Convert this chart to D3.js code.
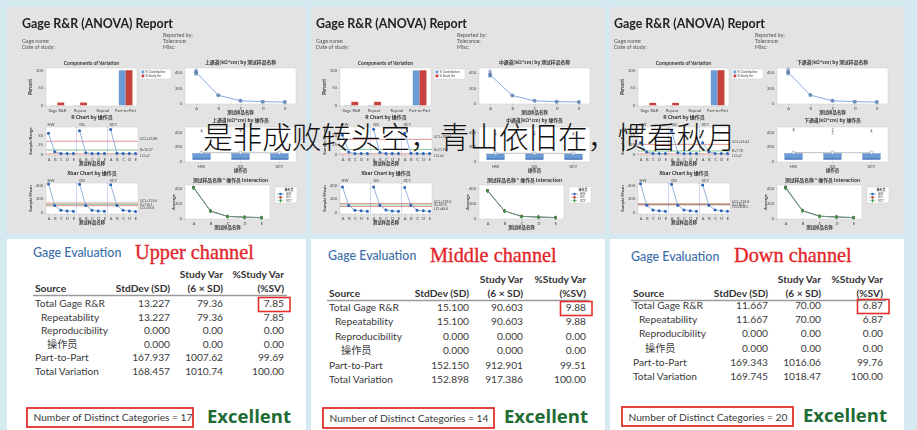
<!DOCTYPE html>
<html>
<head>
<meta charset="utf-8">
<script src="https://cdn.jsdelivr.net/npm/d3@7"></script>
<style>
  body { margin: 0; background: #d5e9f1; }
  svg { display: block; }
</style>
</head>
<body>
<svg id="chart" width="917" height="430"></svg>
<script>
// ---------------- data ----------------
const channelNames = ["上通道", "中通道", "下通道"];
const channelLabels = ["Upper channel", "Middle channel", "Down channel"];
const parts = ["A", "B", "C", "D", "E"];
const operators = ["HW", "GG", "XCY"];
const components = ["Gage R&R", "Repeat", "Reprod", "Part-to-Part"];
const sources = ["Total Gage R&R", "Repeatability", "Reproducibility", "操作员", "Part-to-Part", "Total Variation"];
const headerTop = ["", "", "Study Var", "%Study Var"];
const headerBottom = ["Source", "StdDev (SD)", "(6 × SD)", "(%SV)"];
const percentTicks = [0, 50, 100];
const measureTicks = [0, 200, 400];
const rangeTicks = [0, 25, 50];

// Gage evaluation tables
const upperSD = [13.227, 13.227, 0, 0, 167.937, 168.457];
const upperSV = [79.36, 79.36, 0, 0, 1007.62, 1010.74];
const upperPctSV = [7.85, 7.85, 0, 0, 99.69, 100];
const middleSD = [15.100, 15.100, 0, 0, 152.150, 152.898];
const middleSV = [90.603, 90.603, 0, 0, 912.901, 917.386];
const middlePctSV = [9.88, 9.88, 0, 0, 99.51, 100];
const downSD = [11.667, 11.667, 0, 0, 169.343, 169.745];
const downSV = [70.00, 70.00, 0, 0, 1016.06, 1018.47];
const downPctSV = [6.87, 6.87, 0, 0, 99.76, 100];
const studyVarDigits = [2, 3, 2];
const distinctCategories = [17, 14, 20];
const ratings = ["Excellent", "Excellent", "Excellent"];

// % contribution per component (Gage R&R, Repeat, Reprod, Part-to-Part)
const upperContribution = [0.62, 0.62, 0, 99.38];
const middleContribution = [0.98, 0.98, 0, 99.02];
const downContribution = [0.47, 0.47, 0, 99.53];

// measurement by part: means and spread of the individual readings on part A
const upperPartMean = [405, 105, 33, 22, 16];
const middlePartMean = [370, 102, 32, 22, 17];
const downPartMean = [405, 107, 33, 22, 16];
const upperPartA = [378, 392, 410, 432];
const middlePartA = [352, 368, 390, 418];
const downPartA = [382, 398, 420, 445];

// sample ranges per operator (rows) and part (columns)
const upperRange = [[55, 6, 1, 1, 1], [62, 3, 1, 1, 1], [65, 2, 1, 1, 1]];
const middleRange = [[50, 5, 1, 1, 1], [66, 4, 1, 1, 1], [55, 2, 1, 1, 1]];
const downRange = [[30, 5, 1, 1, 1], [62, 3, 1, 1, 1], [30, 6, 1, 1, 1]];
const upperRangeLimits = [33.88, 10.37, 0];
const middleRangeLimits = [38.94, 11.92, 0];
const downRangeLimits = [25.43, 7.78, 0];

// operator x part averages (Xbar points and interaction lines)
const upperOpPartMean = [[415, 100, 30, 20, 15], [410, 100, 30, 20, 15], [405, 100, 30, 20, 12]];
const middleOpPartMean = [[372, 100, 30, 22, 15], [370, 102, 32, 20, 15], [365, 102, 30, 22, 14]];
const downOpPartMean = [[418, 105, 33, 22, 15], [410, 105, 33, 22, 14], [402, 105, 33, 22, 14]];
const upperXbarLimits = [135.6, 116.1, 96.6];
const middleXbarLimits = [129.4, 107.0, 84.6];
const downXbarLimits = [124.8, 116.5, 108.2];

// boxplot by operator: [min, q1, median, q3, max, mean]
const upperOperatorBox = [[12, 18, 33, 104, 110, 117], [12, 18, 33, 104, 110, 116], [10, 17, 32, 103, 108, 114]];
const middleOperatorBox = [[12, 18, 32, 98, 106, 108], [12, 18, 32, 98, 106, 108], [11, 17, 31, 97, 105, 107]];
const downOperatorBox = [[12, 18, 33, 104, 112, 118], [12, 18, 33, 104, 110, 116], [11, 18, 33, 103, 110, 115]];
const upperOutliers = [[398, 416, 432], [392, 410, 428], [385, 404, 424]];
const middleOutliers = [[356, 372, 392], [352, 370, 396], [350, 366, 388]];
const downOutliers = [[405, 420, 435], [368, 392, 415, 440], [398, 412, 422]];

const overlayText = "是非成败转头空，青山依旧在，惯看秋月";

// ---------------- assembled per channel ----------------
const reports = [
  { name: channelNames[0], label: channelLabels[0], sd: upperSD, sv: upperSV, pct: upperPctSV, digits: studyVarDigits[0],
    contrib: upperContribution, partMean: upperPartMean, partA: upperPartA, range: upperRange, rLim: upperRangeLimits,
    opMean: upperOpPartMean, xLim: upperXbarLimits, box: upperOperatorBox, outliers: upperOutliers,
    ndc: distinctCategories[0], rating: ratings[0] },
  { name: channelNames[1], label: channelLabels[1], sd: middleSD, sv: middleSV, pct: middlePctSV, digits: studyVarDigits[1],
    contrib: middleContribution, partMean: middlePartMean, partA: middlePartA, range: middleRange, rLim: middleRangeLimits,
    opMean: middleOpPartMean, xLim: middleXbarLimits, box: middleOperatorBox, outliers: middleOutliers,
    ndc: distinctCategories[1], rating: ratings[1] },
  { name: channelNames[2], label: channelLabels[2], sd: downSD, sv: downSV, pct: downPctSV, digits: studyVarDigits[2],
    contrib: downContribution, partMean: downPartMean, partA: downPartA, range: downRange, rLim: downRangeLimits,
    opMean: downOpPartMean, xLim: downXbarLimits, box: downOperatorBox, outliers: downOutliers,
    ndc: distinctCategories[2], rating: ratings[2] }
];

// ---------------- layout ----------------
const W = 917, H = 430;
const FONT = "Lato, 'Noto Sans CJK SC', sans-serif";
const CJK = "'Noto Sans CJK SC', sans-serif";
const panels = [ { x: 7, w: 299, cx: 22 }, { x: 311, w: 294, cx: 316 }, { x: 610, w: 294, cx: 614 } ];
const tables = [
  { sx: 35, h2: 292, row0: 307, gap: 13.6, cols: [135, 188, 249], geX: 33, geY: 257, chX: 135, chY: 259, ndcBox: [27, 408, 193, 427], ndcY: 421, exX: 207, exY: 423 },
  { sx: 329, h2: 297, row0: 311, gap: 14.4, cols: [140, 194, 257], geX: 328, geY: 260, chX: 430, chY: 262, ndcBox: [323, 408, 494, 428], ndcY: 422, exX: 504, exY: 423 },
  { sx: 633, h2: 297, row0: 309, gap: 14.2, cols: [135, 188, 250], geX: 631, geY: 261, chX: 734, chY: 262, ndcBox: [622, 407, 793, 426], ndcY: 421, exX: 803, exY: 422 }
];

const BLUE = "#6b9bd6", RED = "#c8423c", GREEN = "#2f9a4a", DOT = "#2b63b5", LINE = "#86acdd";

const svg = d3.select("#chart");
svg.append("defs").append("filter").attr("id", "soft")
  .append("feGaussianBlur").attr("stdDeviation", 0.3);
svg.append("rect").attr("width", W).attr("height", H).attr("fill", "#d5e9f1");

function txt(g, x, y, s, o = {}) {
  return g.append("text").attr("x", x).attr("y", y).text(s)
    .attr("font-family", o.ff || FONT).attr("font-size", o.fs || 4.4)
    .attr("font-weight", o.fw || 400).attr("fill", o.fill || "#333")
    .attr("text-anchor", o.anchor || "start");
}
function frame(g, b) {
  g.append("rect").attr("x", b.x0).attr("y", b.y0).attr("width", b.x1 - b.x0).attr("height", b.y1 - b.y0)
    .attr("fill", "#fff").attr("stroke", "#cfcfcf").attr("stroke-width", 0.5);
}
function leftAxis(g, b, scale, ticks) {
  const a = g.append("g").attr("transform", `translate(${b.x0},0)`)
    .call(d3.axisLeft(scale).tickValues(ticks).tickSize(1.5).tickPadding(1.5));
  a.attr("font-size", 4).attr("font-family", FONT);
  a.select(".domain").remove();
  a.selectAll(".tick line").attr("stroke", "#999").attr("stroke-width", 0.4);
  a.selectAll(".tick text").attr("fill", "#444");
}
function bottomAxis(g, b, scale, fmt) {
  const a = g.append("g").attr("transform", `translate(0,${b.y1})`)
    .call(d3.axisBottom(scale).tickSize(1.5).tickPadding(1.2).tickFormat(fmt || (d => d)));
  a.attr("font-size", 4).attr("font-family", FONT);
  a.select(".domain").remove();
  a.selectAll(".tick line").attr("stroke", "#999").attr("stroke-width", 0.4);
  a.selectAll(".tick text").attr("fill", "#444");
}

function drawReport(g, r) {
  txt(g, 0, 28, "Gage R&R (ANOVA) Report", { fs: 12.4, fw: 700, fill: "#222" });
  txt(g, 0, 43, "Gage name:", { fs: 5.3, fill: "#555" });
  txt(g, 0, 49, "Date of study:", { fs: 5.3, fill: "#555" });
  txt(g, 141, 37, "Reported by:", { fs: 5.3, fill: "#555" });
  txt(g, 141, 43, "Tolerance:", { fs: 5.3, fill: "#555" });
  txt(g, 141, 49, "Misc:", { fs: 5.3, fill: "#555" });

  // ---- Components of Variation ----
  const cv = { x0: 24, x1: 115, y0: 68, y1: 106 };
  txt(g, (cv.x0 + cv.x1) / 2, 65, "Components of Variation", { fs: 5, fw: 700, anchor: "middle" });
  frame(g, cv);
  const xb = d3.scaleBand().domain(components).range([cv.x0, cv.x1]).paddingInner(0.4).paddingOuter(0.2);
  const yb = d3.scaleLinear().domain([-2, 106]).range([cv.y1, cv.y0]);
  const svBars = [r.pct[0], r.pct[1], r.pct[2], r.pct[4]];
  const bw = xb.bandwidth() / 2;
  g.selectAll(null).data(components).join("rect")
    .attr("x", d => xb(d)).attr("width", bw)
    .attr("y", (d, i) => yb(r.contrib[i])).attr("height", (d, i) => yb(0) - yb(r.contrib[i]))
    .attr("fill", BLUE);
  g.selectAll(null).data(components).join("rect")
    .attr("x", d => xb(d) + bw).attr("width", bw)
    .attr("y", (d, i) => yb(svBars[i])).attr("height", (d, i) => yb(0) - yb(svBars[i]))
    .attr("fill", RED);
  leftAxis(g, cv, yb, percentTicks);
  bottomAxis(g, cv, xb);
  txt(g, 0, 0, "Percent", { fs: 4.6, fw: 700, anchor: "middle" })
    .attr("transform", `translate(10,${(cv.y0 + cv.y1) / 2}) rotate(-90)`);
  const lg = g.append("g").attr("transform", "translate(118,69)");
  lg.append("rect").attr("width", 31).attr("height", 10).attr("fill", "#fff").attr("stroke", "#ccc").attr("stroke-width", 0.4);
  [["% Contribution", BLUE], ["% Study Var", RED]].forEach(([s, c], i) => {
    lg.append("rect").attr("x", 1.5).attr("y", 1.5 + i * 4).attr("width", 2.8).attr("height", 2.8).attr("fill", c);
    txt(lg, 5.5, 4 + i * 4, s, { fs: 3, fill: "#444" });
  });

  // ---- measurement by part ----
  const pp = { x0: 163, x1: 274, y0: 68, y1: 104 };
  txt(g, (pp.x0 + pp.x1) / 2, 64, `${r.name}(kΩ*cm) by 测试样品名称`, { fs: 4.8, fw: 700, anchor: "middle", ff: CJK });
  frame(g, pp);
  const xp = d3.scalePoint().domain(parts).range([pp.x0, pp.x1]).padding(0.5);
  const yp = d3.scaleLinear().domain([-9, 461]).range([pp.y1, pp.y0]);
  g.append("path").datum(r.partMean)
    .attr("d", d3.line().x((d, i) => xp(parts[i])).y(d => yp(d)))
    .attr("fill", "none").attr("stroke", LINE).attr("stroke-width", 1);
  g.selectAll(null).data(r.partA).join("circle")
    .attr("cx", xp("A")).attr("cy", d => yp(d)).attr("r", 1.7)
    .attr("fill", "#7d94b8").attr("fill-opacity", 0.7);
  g.selectAll(null).data(r.partMean).join("circle")
    .attr("cx", (d, i) => xp(parts[i])).attr("cy", d => yp(d)).attr("r", 2)
    .attr("fill", "#5d7fb3").attr("fill-opacity", 0.85);
  leftAxis(g, pp, yp, measureTicks);
  bottomAxis(g, pp, xp);
  txt(g, (pp.x0 + pp.x1) / 2, 114, "测试样品名称", { fs: 4.4, fw: 700, anchor: "middle", ff: CJK });

  // shared sequence scale for the control charts
  const keys = [];
  operators.forEach(o => parts.forEach(p => keys.push(o + "|" + p)));

  function controlChart(b, title, titleY, values, yScale, ticks, limits, limLabels, yLabel) {
    txt(g, (b.x0 + b.x1) / 2, titleY, title, { fs: 5, fw: 700, anchor: "middle", ff: CJK });
    frame(g, b);
    const xs = d3.scalePoint().domain(keys).range([b.x0, b.x1]).padding(0.4);
    const step = xs.step();
    const limColors = [RED, GREEN, RED];
    limits.forEach((v, i) => {
      g.append("line").attr("x1", b.x0).attr("x2", b.x1).attr("y1", yScale(v)).attr("y2", yScale(v))
        .attr("stroke", limColors[i]).attr("stroke-width", 0.7).attr("stroke-opacity", 0.8);
    });
    operators.forEach((o, oi) => {
      const first = xs(o + "|" + parts[0]), last = xs(o + "|" + parts[parts.length - 1]);
      txt(g, (first + last) / 2 - step * 1.6, b.y0 - 1.5, o, { fs: 3.8, fill: "#444", anchor: "middle" });
      if (oi > 0) {
        g.append("line").attr("x1", first - step / 2).attr("x2", first - step / 2)
          .attr("y1", b.y0).attr("y2", b.y1)
          .attr("stroke", "#5470c8").attr("stroke-width", 0.5).attr("stroke-dasharray", "1.2,1");
      }
      const row = values[oi];
      g.append("path").datum(row)
        .attr("d", d3.line().x((d, i) => xs(o + "|" + parts[i])).y(d => yScale(d)))
        .attr("fill", "none").attr("stroke", LINE).attr("stroke-width", 0.9);
      g.selectAll(null).data(row).join("circle")
        .attr("cx", (d, i) => xs(o + "|" + parts[i])).attr("cy", d => yScale(d)).attr("r", 1.5)
        .attr("fill", DOT);
    });
    leftAxis(g, b, yScale, ticks);
    bottomAxis(g, b, xs, d => d.split("|")[1]);
    txt(g, (b.x0 + b.x1) / 2, b.y1 + 10, "测试样品名称", { fs: 4.4, fw: 700, anchor: "middle", ff: CJK });
    txt(g, 0, 0, yLabel, { fs: 4.4, fw: 700, anchor: "middle" })
      .attr("transform", `translate(10,${(b.y0 + b.y1) / 2}) rotate(-90)`);
    limLabels.forEach((s, i) => {
      txt(g, b.x1 + 2, yScale(limits[i]) + 1.3 + (i - 1) * 2.2, s, { fs: 3.4, fill: "#444" });
    });
  }

  // ---- R chart ----
  const rc = { x0: 24, x1: 116, y0: 127, y1: 155 };
  const yr = d3.scaleLinear().domain([-3, 72]).range([rc.y1, rc.y0]);
  controlChart(rc, "R Chart by 操作员", 119, r.range, yr, rangeTicks, r.rLim,
    [`UCL=${r.rLim[0].toFixed(2)}`, `R̄=${r.rLim[1].toFixed(2)}`, `LCL=${r.rLim[2]}`], "Sample Range");

  // ---- Xbar chart ----
  const xc = { x0: 24, x1: 116, y0: 183, y1: 214 };
  const yx = d3.scaleLinear().domain([-25, 430]).range([xc.y1, xc.y0]);
  controlChart(xc, "Xbar Chart by 操作员", 175, r.opMean, yx, measureTicks, r.xLim,
    [`UCL=${r.xLim[0].toFixed(1)}`, `X̿=${r.xLim[1].toFixed(1)}`, `LCL=${r.xLim[2].toFixed(1)}`], "Sample Mean");

  // ---- boxplot by operator ----
  const bp = { x0: 163, x1: 274, y0: 127, y1: 162 };
  txt(g, (bp.x0 + bp.x1) / 2, 122, `${r.name}(kΩ*cm) by 操作员`, { fs: 4.8, fw: 700, anchor: "middle", ff: CJK });
  frame(g, bp);
  const xo = d3.scaleBand().domain(operators).range([bp.x0, bp.x1]).paddingInner(0.55).paddingOuter(0.2);
  const yo = d3.scaleLinear().domain([-14, 474]).range([bp.y1, bp.y0]);
  g.append("path").datum(r.box)
    .attr("d", d3.line().x((d, i) => xo(operators[i]) + xo.bandwidth() / 2).y(d => yo(d[5])))
    .attr("fill", "none").attr("stroke", "#999").attr("stroke-width", 0.6);
  r.box.forEach((s, i) => {
    const x = xo(operators[i]), w = xo.bandwidth(), cx = x + w / 2;
    g.append("line").attr("x1", cx).attr("x2", cx).attr("y1", yo(s[0])).attr("y2", yo(s[4]))
      .attr("stroke", "#5b7fb5").attr("stroke-width", 0.5);
    g.append("rect").attr("x", x).attr("width", w).attr("y", yo(s[3])).attr("height", yo(s[1]) - yo(s[3]))
      .attr("fill", BLUE).attr("stroke", "#4f7fc0").attr("stroke-width", 0.4);
    g.append("line").attr("x1", x).attr("x2", x + w).attr("y1", yo(s[2])).attr("y2", yo(s[2]))
      .attr("stroke", "#3d64a0").attr("stroke-width", 0.5);
    g.append("circle").attr("cx", cx).attr("cy", yo(s[5])).attr("r", 1.6)
      .attr("fill", "#e8eef7").attr("stroke", "#777").attr("stroke-width", 0.4);
    g.selectAll(null).data(r.outliers[i]).join("text")
      .attr("x", cx).attr("y", d => yo(d) + 1.5).text("*")
      .attr("font-size", 4.5).attr("text-anchor", "middle").attr("fill", "#555");
  });
  leftAxis(g, bp, yo, measureTicks);
  bottomAxis(g, bp, xo);
  txt(g, (bp.x0 + bp.x1) / 2, 172, "操作员", { fs: 4.4, fw: 700, anchor: "middle", ff: CJK });

  // ---- interaction ----
  const ip = { x0: 163, x1: 248, y0: 185, y1: 219 };
  txt(g, (ip.x0 + ip.x1) / 2 + 3, 182, "测试样品名称 * 操作员 Interaction", { fs: 4.8, fw: 700, anchor: "middle", ff: CJK });
  frame(g, ip);
  const xi = d3.scalePoint().domain(parts).range([ip.x0, ip.x1]).padding(0.5);
  const yi = d3.scaleLinear().domain([-4, 443]).range([ip.y1, ip.y0]);
  const opColors = [DOT, "#c0392b", GREEN];
  const opSymbols = [d3.symbolCircle, d3.symbolSquare, d3.symbolDiamond];
  r.opMean.forEach((row, oi) => {
    g.append("path").datum(row)
      .attr("d", d3.line().x((d, i) => xi(parts[i])).y(d => yi(d)))
      .attr("fill", "none").attr("stroke", "#6f8f7a").attr("stroke-width", 0.8);
    g.selectAll(null).data(row).join("path")
      .attr("transform", (d, i) => `translate(${xi(parts[i])},${yi(d)})`)
      .attr("d", d3.symbol().type(opSymbols[oi]).size(7))
      .attr("fill", opColors[oi]);
  });
  leftAxis(g, ip, yi, measureTicks);
  bottomAxis(g, ip, xi);
  txt(g, (ip.x0 + ip.x1) / 2, 229, "测试样品名称", { fs: 4.4, fw: 700, anchor: "middle", ff: CJK });
  txt(g, 0, 0, "Average", { fs: 4.4, fw: 700, anchor: "middle" })
    .attr("transform", `translate(153,${(ip.y0 + ip.y1) / 2}) rotate(-90)`);
  const il = g.append("g").attr("transform", "translate(253,187)");
  il.append("rect").attr("width", 22).attr("height", 16).attr("fill", "#fff").attr("stroke", "#ccc").attr("stroke-width", 0.4);
  txt(il, 14, 3.8, "操作员", { fs: 3, fw: 700, anchor: "middle", ff: CJK });
  operators.forEach((o, oi) => {
    const y = 7 + oi * 3.3;
    il.append("line").attr("x1", 2).attr("x2", 9).attr("y1", y).attr("y2", y)
      .attr("stroke", opColors[oi]).attr("stroke-width", 0.5).attr("stroke-dasharray", oi ? "1,0.6" : null);
    il.append("path").attr("transform", `translate(5.5,${y})`)
      .attr("d", d3.symbol().type(opSymbols[oi]).size(5)).attr("fill", opColors[oi]);
    txt(il, 11, y + 1.1, o, { fs: 3, fill: "#444" });
  });
}

function drawTable(g, r, L) {
  txt(g, L.geX, L.geY, "Gage Evaluation", { fs: 12.4, fw: 500, fill: "#3b6ea8" });
  txt(g, L.chX, L.chY, r.label, { fs: 20.3, ff: "'Liberation Serif', serif", fill: "#e3262b" })
    .attr("stroke", "#e3262b").attr("stroke-width", 0.35);
  const colX = [L.sx, L.sx + L.cols[0], L.sx + L.cols[1], L.sx + L.cols[2]];
  headerTop.forEach((h, i) => {
    if (h) txt(g, colX[i], L.h2 - 14.5, h, { fs: 10.2, fw: 700, fill: "#333", anchor: "end" });
  });
  headerBottom.forEach((h, i) => {
    txt(g, colX[i], L.h2, h, { fs: 10.2, fw: 700, fill: "#333", anchor: i ? "end" : "start" });
  });
  g.append("line").attr("x1", L.sx - 2).attr("x2", colX[3] + 3).attr("y1", L.h2 + 3.5).attr("y2", L.h2 + 3.5)
    .attr("stroke", "#9a9a9a").attr("stroke-width", 1.6);
  const indent = i => (i === 1 || i === 2) ? 6 : (i === 3 ? 12 : 0);
  sources.forEach((s, i) => {
    const y = L.row0 + i * L.gap;
    txt(g, L.sx + indent(i), y, s, { fs: 10.2, fill: "#3a3a3a" });
    txt(g, colX[1], y, r.sd[i].toFixed(3), { fs: 10.2, fill: "#3a3a3a", anchor: "end" });
    txt(g, colX[2], y, r.sv[i].toFixed(r.digits), { fs: 10.2, fill: "#3a3a3a", anchor: "end" });
    txt(g, colX[3], y, r.pct[i].toFixed(2), { fs: 10.2, fill: "#3a3a3a", anchor: "end" });
  });
  g.append("rect").attr("x", colX[3] - 25.5).attr("y", L.row0 - 9.5).attr("width", 31.5).attr("height", 14)
    .attr("fill", "none").attr("stroke", "#e0302c").attr("stroke-width", 1.6);
  const nb = L.ndcBox;
  g.append("rect").attr("x", nb[0]).attr("y", nb[1]).attr("width", nb[2] - nb[0]).attr("height", nb[3] - nb[1])
    .attr("fill", "none").attr("stroke", "#e0302c").attr("stroke-width", 1.8);
  txt(g, nb[0] + 6.5, L.ndcY, `Number of Distinct Categories = ${r.ndc}`, { fs: 10.2, fill: "#3a3a3a" });
  txt(g, L.exX, L.exY, r.rating, { fs: 18.5, fw: 700, ff: "'Open Sans', sans-serif", fill: "#1e6b34" });
}

reports.forEach((r, i) => {
  const P = panels[i];
  const top = svg.append("g").attr("filter", "url(#soft)");
  top.append("rect").attr("x", P.x).attr("y", 7).attr("width", P.w).attr("height", 227).attr("fill", "#e3e3e3");
  drawReport(top.append("g").attr("transform", `translate(${P.cx},0)`), r);
  svg.append("rect").attr("x", P.x).attr("y", 239).attr("width", P.w).attr("height", H - 239).attr("fill", "#fff");
  drawTable(svg.append("g"), r, tables[i]);
});

// caption laid over the report images
svg.append("text").attr("x", 203).attr("y", 148).text(overlayText)
  .attr("font-family", CJK).attr("font-size", 29.6).attr("font-weight", 300).attr("fill", "#111");
</script>
</body>
</html>
